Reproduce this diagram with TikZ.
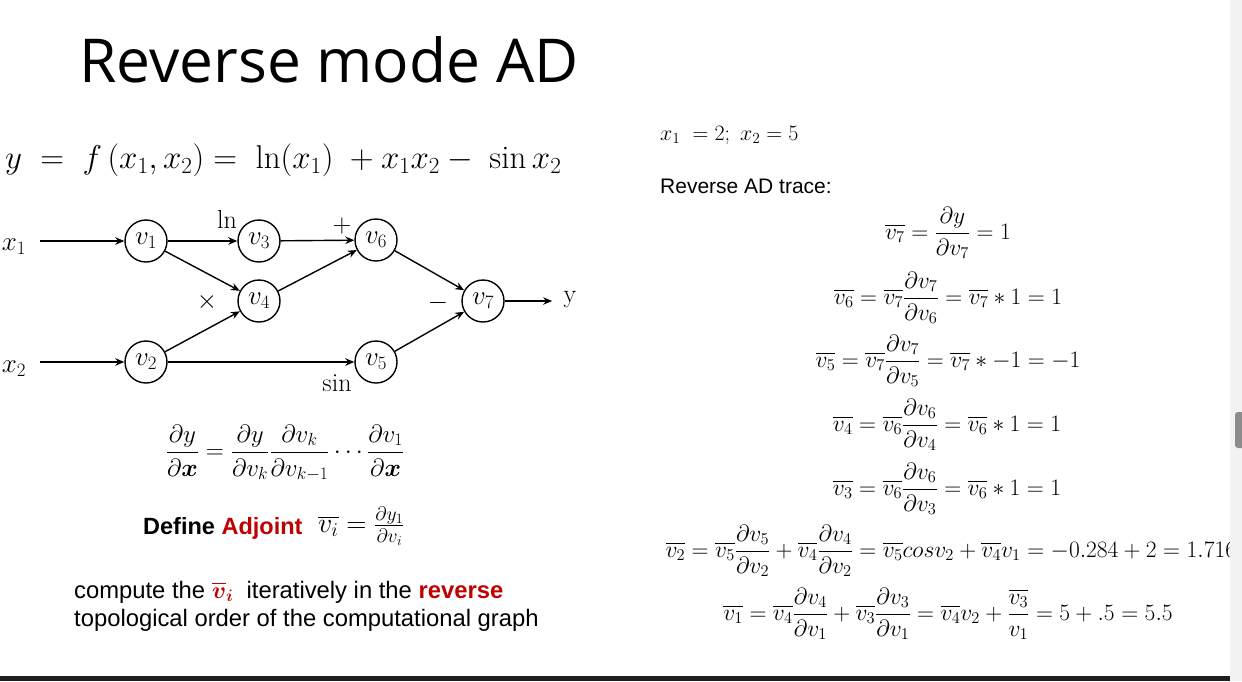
\RequirePackage{fix-cm}
\documentclass[tikz,border=0pt]{standalone}
\usepackage{amsmath}
\usepackage{fontspec}
\newfontfamily\titlefont{Open Sans}
\newfontfamily\arialfont{Liberation Sans}
\usetikzlibrary{arrows.meta}
\definecolor{adjred}{HTML}{C00000}

\begin{document}
\begin{tikzpicture}[x=1pt, y=-1pt,
    var/.style={circle, draw, line width=1.4pt, minimum size=42pt, inner sep=0pt, font=\fontsize{27}{30}\selectfont},
    lbl/.style={font=\fontsize{26}{30}\selectfont},
    edge/.style={line width=1.4pt, -{Stealth[length=9pt, width=7.5pt]}},
    trace/.style={font=\fontsize{23.5}{28}\selectfont},
    prose/.style={anchor=base west, inner sep=0pt, font=\arialfont\fontsize{23.8}{27}\selectfont}]

  \useasboundingbox (0,0) rectangle (1242,681);

  \node[anchor=base west, inner sep=0pt, font=\titlefont\fontsize{60.5}{64}\selectfont] (title) at (79,82) {Reverse mode AD};
  \node[anchor=west, inner sep=0pt, font=\fontsize{33}{36}\selectfont] (func) at (5,160)
    {$y \;=\; f\,(x_1, x_2) =\; \ln(x_1)\; + x_1x_2 -\; \sin x_2$};

  \node[lbl, font=\fontsize{27}{30}\selectfont] (x1) at (14,247) {$x_1$};
  \node[lbl, font=\fontsize{27}{30}\selectfont] (x2) at (14,369) {$x_2$};
  \node[var] (v1) at (146,241) {$v_1$};
  \node[var] (v3) at (259,241) {$v_3$};
  \node[var] (v6) at (376,240) {$v_6$};
  \node[var] (v4) at (259,301) {$v_4$};
  \node[var] (v7) at (483,301) {$v_7$};
  \node[var] (v2) at (146,362) {$v_2$};
  \node[var] (v5) at (376,362) {$v_5$};
  \node[lbl] (yout) at (570,300) {y};
  \node[lbl] (opln) at (227,219) {ln};
  \node[lbl] (opplus) at (342,226) {$+$};
  \node[lbl] (optimes) at (207,302) {$\times$};
  \node[lbl] (opminus) at (438,303) {$-$};
  \node[lbl] (opsin) at (337,383) {sin};

  \draw[edge, shorten <=10pt] (x1.east |- v1) -- (v1);
  \draw[edge, shorten <=10pt] (x2.east |- v2) -- (v2);
  \draw[edge] (v1) -- (v3);
  \draw[edge] (v1) -- (v4);
  \draw[edge] (v2) -- (v4);
  \draw[edge] (v2) -- (v5);
  \draw[edge] (v3) -- (v6);
  \draw[edge] (v4) -- (v6);
  \draw[edge] (v6) -- (v7);
  \draw[edge] (v5) -- (v7);
  \draw[edge, shorten >=8pt] (v7) -- (yout.west |- v7);

  \node[font=\fontsize{25}{30}\selectfont] (chain) at (285,453)
    {$\dfrac{\partial y}{\partial \boldsymbol{x}} = \dfrac{\partial y}{\partial v_k}\dfrac{\partial v_k}{\partial v_{k-1}}\cdots\dfrac{\partial v_1}{\partial \boldsymbol{x}}$};
  \node[prose, font=\arialfont\bfseries\fontsize{23.5}{27}\selectfont] (define) at (143,534) {Define \textcolor{adjred}{Adjoint}};
  \node[anchor=west, inner sep=0pt, font=\fontsize{28}{32}\selectfont] (adjoint) at (318,526) {$\overline{v_i} = \frac{\partial y_1}{\partial v_i}$};
  \node[prose] (note1) at (74,598) {compute the \textcolor{adjred}{$\boldsymbol{\overline{v}_i}$}\ \ iteratively in the \textcolor{adjred}{\bfseries reverse}};
  \node[prose] (note2) at (74,626) {topological order of the computational graph};

  \node[anchor=base west, inner sep=0pt, font=\fontsize{22}{26}\selectfont] (inputs) at (660,140) {$x_1\;=2;\;x_2=5$};
  \node[anchor=base west, inner sep=0pt, font=\arialfont\fontsize{21}{25}\selectfont] (tracehead) at (660,193) {Reverse AD trace:};

  \node[trace] (t7) at (948,233) {$\overline{v_7} = \dfrac{\partial y}{\partial v_7} = 1$};
  \node[trace] (t6) at (948,298) {$\overline{v_6} = \overline{v_7}\dfrac{\partial v_7}{\partial v_6} = \overline{v_7} * 1 = 1$};
  \node[trace] (t5) at (948,361) {$\overline{v_5} = \overline{v_7}\dfrac{\partial v_7}{\partial v_5} = \overline{v_7} * -1 = -1$};
  \node[trace] (t4) at (947,425) {$\overline{v_4} = \overline{v_6}\dfrac{\partial v_6}{\partial v_4} = \overline{v_6} * 1 = 1$};
  \node[trace] (t3) at (947,489) {$\overline{v_3} = \overline{v_6}\dfrac{\partial v_6}{\partial v_3} = \overline{v_6} * 1 = 1$};
  \node[trace, anchor=west] (t2) at (662,551) {$\overline{v_2} = \overline{v_5}\dfrac{\partial v_5}{\partial v_2} + \overline{v_4}\dfrac{\partial v_4}{\partial v_2} = \overline{v_5}{cos}v_2 + \overline{v_4}v_1 = -0.284 + 2 = 1.716$};
  \node[trace] (t1) at (948,614) {$\overline{v_1} = \overline{v_4}\dfrac{\partial v_4}{\partial v_1} + \overline{v_3}\dfrac{\partial v_3}{\partial v_1} = \overline{v_4}v_2 + \dfrac{\overline{v_3}}{v_1} = 5 + .5 = 5.5$};

  \fill[black!5] (1230,0) rectangle (1242,681);
  \fill[black!45, rounded corners=3pt] (1235,412) rectangle (1248,448);
  \fill[black!88] (0,676) rectangle (1230,681);
\end{tikzpicture}
\end{document}
